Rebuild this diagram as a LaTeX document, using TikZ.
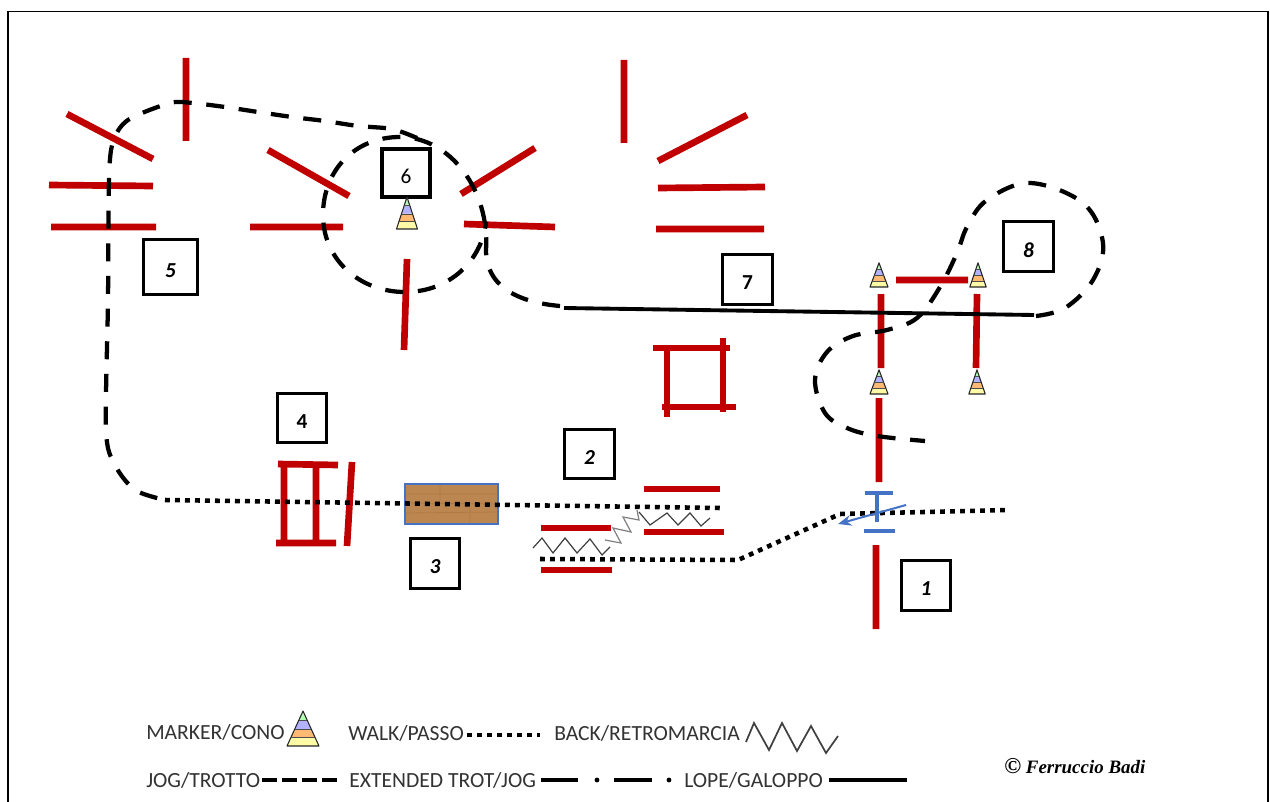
\documentclass[tikz,border=0pt]{standalone}
\usepackage{fontspec}
\setmainfont{Carlito}
\newfontfamily\sigfont{Liberation Serif}
\usetikzlibrary{arrows.meta}
\definecolor{polered}{HTML}{C00000}
\definecolor{gateblue}{HTML}{4472C4}
\definecolor{wood}{HTML}{BC8650}
\definecolor{woodd}{HTML}{A87040}
\newcommand{\numtxt}[1]{\raisebox{-2.6pt}[\height][\depth]{#1}}
\tikzset{
  pole/.style={draw=polered,line width=5pt},
  blue bar/.style={draw=gateblue,line width=3.6pt},
  jog/.style={draw=black,line width=3.2pt,dash pattern=on 13.5pt off 11pt},
  walk/.style={draw=black,line width=3.4pt,dash pattern=on 3.6pt off 3.9pt},
  lope/.style={draw=black,line width=2.9pt},
  zig/.style={draw=black!75,line width=.9pt},
  numbox/.style={draw=black,line width=2.3pt,fill=white,minimum size=37pt,inner sep=0pt,font=\fontsize{16}{18}\selectfont},
  numboxbi/.style={numbox,font=\fontsize{16}{18}\selectfont\bfseries\itshape},
  numboxb/.style={numbox,font=\fontsize{16}{18}\selectfont\bfseries},
  legend/.style={anchor=west,inner sep=0pt,text=black!80,font=\fontsize{16.2}{18}\selectfont},
  pics/cone/.style={code={
    \fill[yellow!35] (-10,0)--(10,0)--(7.6,-5.5)--(-7.6,-5.5)--cycle;
    \fill[orange!55] (-7.6,-5.5)--(7.6,-5.5)--(5.2,-11)--(-5.2,-11)--cycle;
    \fill[blue!30] (-5.2,-11)--(5.2,-11)--(2.6,-17)--(-2.6,-17)--cycle;
    \fill[green!30] (-2.6,-17)--(2.6,-17)--(0,-23)--cycle;
    \draw[black!85,line width=.8pt,line join=round] (-10,0)--(10,0)--(0,-23)--cycle;
    \draw[black!70,line width=.3pt] (-7.6,-5.5)--(7.6,-5.5) (-5.2,-11)--(5.2,-11) (-2.6,-17)--(2.6,-17);
  }}
}
\begin{document}
\begin{tikzpicture}[x=0.75pt,y=-0.75pt]
\useasboundingbox (0,0) rectangle (1270,802);
\fill[white] (0,0) rectangle (1270,802);
\draw[black,line width=1pt] (8,802)--(8,11.5)--(1268,11.5)--(1268,802);
% poles
\draw[pole] (186,58)--(186,141) (67,114)--(153,159) (49,185)--(153,186) (51,227)--(156,227);
\draw[pole] (268,150)--(349,196) (250,227)--(343,227) (407,259)--(404,350) (535,148)--(461,194) (464,224)--(555,227);
\draw[pole] (624,60)--(624,143) (747,115)--(658,161) (658,188)--(765,187) (656,229)--(764,229);
\draw[pole] (653,348)--(730,348) (662,407)--(736,407) (667,345)--(667,417) (723,338)--(723,412);
\draw[pole] (896,280)--(968,280) (881,294)--(881,368) (977,294)--(976,368) (879,398)--(879,482) (876,545)--(876,629);
\draw[pole] (644,489)--(720,489) (644,532)--(724,532) (541,528)--(611,528) (541,570)--(612,570);
\draw[pole] (278,464)--(338,465) (276,543)--(336,543) (284,462)--(284,545) (316,465)--(316,543) (352,462)--(347,546);
% jog paths
\draw[jog] plot[smooth,tension=.6] coordinates {(1036,316) (1065,308) (1093,280) (1103,243) (1083,203) (1030,183) (987,200) (967,227) (957,253) (940,287) (917,318) (887,330) (853,336) (827,352) (815,380) (825,413) (847,428) (877,436) (925,441)};
\draw[jog] (560,306) .. controls (515,302) and (486,285) .. (486,250)
  .. controls (490,190) and (450,137) .. (400,137)
  .. controls (355,137) and (323,170) .. (323,215)
  .. controls (323,260) and (360,292) .. (405,292)
  .. controls (450,292) and (482,260) .. (486,222);
\draw[jog] plot[smooth,tension=.5] coordinates {(417,138) (392,129) (358,126) (325,121) (292,117) (258,112) (225,107) (192,103) (170,103) (128,120) (113,142) (109,180) (108,300) (106,430) (115,465) (135,490) (165,500)};
% wood
\fill[wood] (405,484) rectangle (498,524);
\draw[woodd,line width=.6pt,opacity=.6] (405,494)--(498,494) (405,503)--(498,504) (405,513)--(498,512) (440,484)--(440,500) (470,505)--(470,524);
\draw[draw=gateblue,line width=.8pt] (405,484) rectangle (498,524);
% walk
\draw[walk] (165,500)--(720,508);
\draw[walk] (540,559)--(738,560)--(840,514)--(1008,510);
% lope
\draw[lope] (564,308)--(1034,315);
% zigzag back
\draw[zig] (533,548)--(542,538)--(553,553)--(565,538)--(577,553)--(590,539)--(602,555)--(610,547);
\draw[zig,draw=black!50] (605,540)--(621,543)--(613,528)--(631,532)--(623,517)--(639,520)--(637,510);
\draw[zig] (639,512)--(650,525)--(667,513)--(678,525)--(690,513)--(701,526)--(710,518);
% blue gate
\draw[blue bar] (865,493)--(893,493) (877,493)--(877,522) (864,531)--(895,531);
\draw[draw=gateblue,line width=1.5pt,-{Stealth[length=10pt,width=8pt]}] (906,505)--(838,524);
% number boxes
\node[numboxbi,minimum size=41pt] (n5) at (170.5,267) {\numtxt{5}};
\node[numbox,minimum size=36pt] (n6) at (406,173) {\numtxt{6}};
\node[numboxb] (n7) at (747.5,279.5) {\numtxt{7}};
\node[numboxbi] (n8) at (1028.5,246.5) {\numtxt{8}};
\node[numboxb] (n4) at (302,418) {\numtxt{4}};
\node[numboxbi] (n2) at (589.5,454) {\numtxt{2}};
\node[numboxbi] (n3) at (435,563.5) {\numtxt{3}};
\node[numboxbi] (n1) at (926,585.5) {\numtxt{1}};
% cones
\path (407,229) pic[xscale=1.05,yscale=1.39] {cone};
\path (879,287) pic[xscale=.9,yscale=1.05] {cone};
\path (978,287) pic[xscale=.82,yscale=1.05] {cone};
\path (879,394) pic[xscale=.9,yscale=1.05] {cone};
\path (977,394) pic[xscale=.82,yscale=1.05] {cone};
\path (303,746) pic[xscale=1.6,yscale=1.52] {cone};
% legend
\node[legend] (t1) at (146,732) {MARKER/CONO};
\node[legend] (t2) at (348,733) {WALK/PASSO};
\node[legend] (t3) at (554,733) {BACK/RETROMARCIA};
\node[legend] (t4) at (146,780) {JOG/TROTTO};
\node[legend] (t5) at (349,780) {EXTENDED TROT/JOG};
\node[legend] (t6) at (684,780) {LOPE/GALOPPO};
\draw[walk] (467,735)--(540,735);
\draw[zig,line width=1.3pt] (746,742)--(754,723)--(769,750)--(782,723)--(797,751)--(811,726)--(826,753)--(838,736);
\draw[jog,line width=3pt,dash pattern=on 11.5pt off 3.5pt] (262,780)--(337,780);
\draw[lope,line width=3.2pt] (541,780)--(578,780) (614,780)--(652,780) (829,780)--(907,780);
\fill (597,780) circle (2.4) (669,780) circle (2.4);
\node[anchor=west,inner sep=0pt] (sig) at (1004,766) {\sigfont\fontsize{14.2}{16}\selectfont\bfseries\itshape {\fontsize{17}{16}\selectfont ©} Ferruccio Badi};
\end{tikzpicture}
\end{document}
